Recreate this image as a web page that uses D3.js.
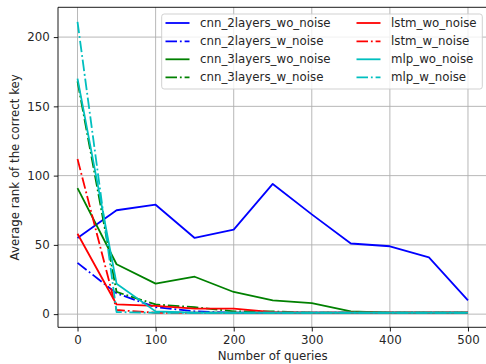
<!DOCTYPE html>
<html><head><meta charset="utf-8">
<script src="https://cdn.jsdelivr.net/npm/d3@7"></script>
<style>body{margin:0;background:#fff;}svg{display:block;font-family:"DejaVu Sans",sans-serif;}</style>
</head><body><svg id="c" width="486" height="364"></svg>
<script>
const queries = [0, 50, 100, 150, 200, 250, 300, 350, 400, 450, 500];
const cnn2_wo = [55, 75, 79, 55, 61, 94, 72, 51, 49, 41, 10];
const cnn2_w  = [37, 15, 5, 2, 1, 1, 1, 1, 1, 1, 1];
const cnn3_wo = [91, 36, 22, 27, 16, 10, 8, 2, 1, 1, 1];
const cnn3_w  = [168, 16, 7, 5, 2, 2, 1, 1, 1, 1, 1];
const lstm_wo = [58, 7, 6, 4, 4, 1.5, 1, 1, 1, 1, 1];
const lstm_w  = [112, 3, 1, 1, 1, 1, 1, 1, 1, 1, 1];
const mlp_wo  = [170, 22, 2, 1, 1, 1, 1, 1, 1, 1, 1];
const mlp_w   = [211, 1.5, 1, 1, 1, 1, 1, 1, 1, 1, 1];
const xTicks = [0, 100, 200, 300, 400, 500];
const yTicks = [0, 50, 100, 150, 200];

const series = [
  {name: "cnn_2layers_wo_noise", values: cnn2_wo, color: "#0000ff", dash: false},
  {name: "cnn_2layers_w_noise",  values: cnn2_w,  color: "#0000ff", dash: true},
  {name: "cnn_3layers_wo_noise", values: cnn3_wo, color: "#008000", dash: false},
  {name: "cnn_3layers_w_noise",  values: cnn3_w,  color: "#008000", dash: true},
  {name: "lstm_wo_noise", values: lstm_wo, color: "#ff0000", dash: false},
  {name: "lstm_w_noise",  values: lstm_w,  color: "#ff0000", dash: true},
  {name: "mlp_wo_noise",  values: mlp_wo,  color: "#00bfbf", dash: false},
  {name: "mlp_w_noise",   values: mlp_w,   color: "#00bfbf", dash: true}
];

const svg = d3.select("#c");
const L = 58, R = 487.5, T = 7.3, B = 327.3;
const fs = 11.8;
const lw = 1.8;
const dashArr = "11.5,2.9,1.8,2.9";

const allY = series.flatMap(s => s.values);
const ymin = d3.min(allY), ymax = d3.max(allY);
const ym = (ymax - ymin) * 0.05;
const x = d3.scaleLinear().domain([-25, 525]).range([L, R]);
const y = d3.scaleLinear().domain([ymin - ym, ymax + ym]).range([B, T]);

// grid
const g = svg.append("g");
g.selectAll(".gx").data(xTicks).enter().append("line")
  .attr("x1", d => x(d)).attr("x2", d => x(d)).attr("y1", T).attr("y2", B)
  .attr("stroke", "#b0b0b0").attr("stroke-width", 0.9);
g.selectAll(".gy").data(yTicks).enter().append("line")
  .attr("y1", d => y(d)).attr("y2", d => y(d)).attr("x1", L).attr("x2", R)
  .attr("stroke", "#b0b0b0").attr("stroke-width", 0.9);

// lines
const line = d3.line().x((d, i) => x(queries[i])).y(d => y(d));
series.forEach(s => {
  svg.append("path").datum(s.values).attr("d", line)
    .attr("fill", "none").attr("stroke", s.color).attr("stroke-width", lw)
    .attr("stroke-linejoin", "round")
    .attr("stroke-dasharray", s.dash ? dashArr : null);
});

// axes
const xAxis = d3.axisBottom(x).tickValues(xTicks).tickSize(4.2).tickPadding(4);
const yAxis = d3.axisLeft(y).tickValues(yTicks).tickSize(4.2).tickPadding(4);
const gx = svg.append("g").attr("transform", `translate(0,${B})`).call(xAxis);
const gy = svg.append("g").attr("transform", `translate(${L},0)`).call(yAxis);
[gx, gy].forEach(a => {
  a.select(".domain").remove();
  a.selectAll("text").attr("font-size", fs).attr("fill", "#262626").attr("font-family", "DejaVu Sans");
  a.selectAll("line").attr("stroke", "#000").attr("stroke-width", 0.9);
});
// spines
[[L, T, L, B], [L, B, R, B], [L, T, R, T], [R, T, R, B]].forEach(p => {
  svg.append("line").attr("x1", p[0]).attr("y1", p[1]).attr("x2", p[2]).attr("y2", p[3])
    .attr("stroke", "#000").attr("stroke-width", 0.9);
});

// labels
svg.append("text").attr("x", (L + R) / 2).attr("y", 359.5).attr("text-anchor", "middle")
  .attr("font-size", fs).attr("fill", "#262626").text("Number of queries");
svg.append("text").attr("transform", `translate(18.5,${(T + B) / 2}) rotate(-90)`).attr("text-anchor", "middle")
  .attr("font-size", fs).attr("fill", "#262626").text("Average rank of the correct key");

// legend
const lg = svg.append("g");
lg.append("rect").attr("x", 161.7).attr("y", 14).attr("width", 320.6).attr("height", 75)
  .attr("rx", 2.5).attr("fill", "#fff").attr("fill-opacity", 0.8).attr("stroke", "#cccccc").attr("stroke-width", 0.9);
const cols = [{lx: 165.5, tx: 200}, {lx: 356.5, tx: 391}];
const rows = [23, 41.3, 59.3, 77.3];
series.forEach((s, i) => {
  const c = cols[Math.floor(i / 4)], ry = rows[i % 4];
  lg.append("line").attr("x1", c.lx).attr("x2", c.lx + 24).attr("y1", ry).attr("y2", ry)
    .attr("stroke", s.color).attr("stroke-width", lw).attr("stroke-dasharray", s.dash ? dashArr : null);
  lg.append("text").attr("x", c.tx).attr("y", ry).attr("dy", "0.35em")
    .attr("font-size", fs).attr("fill", "#262626").text(s.name);
});
</script></body></html>
